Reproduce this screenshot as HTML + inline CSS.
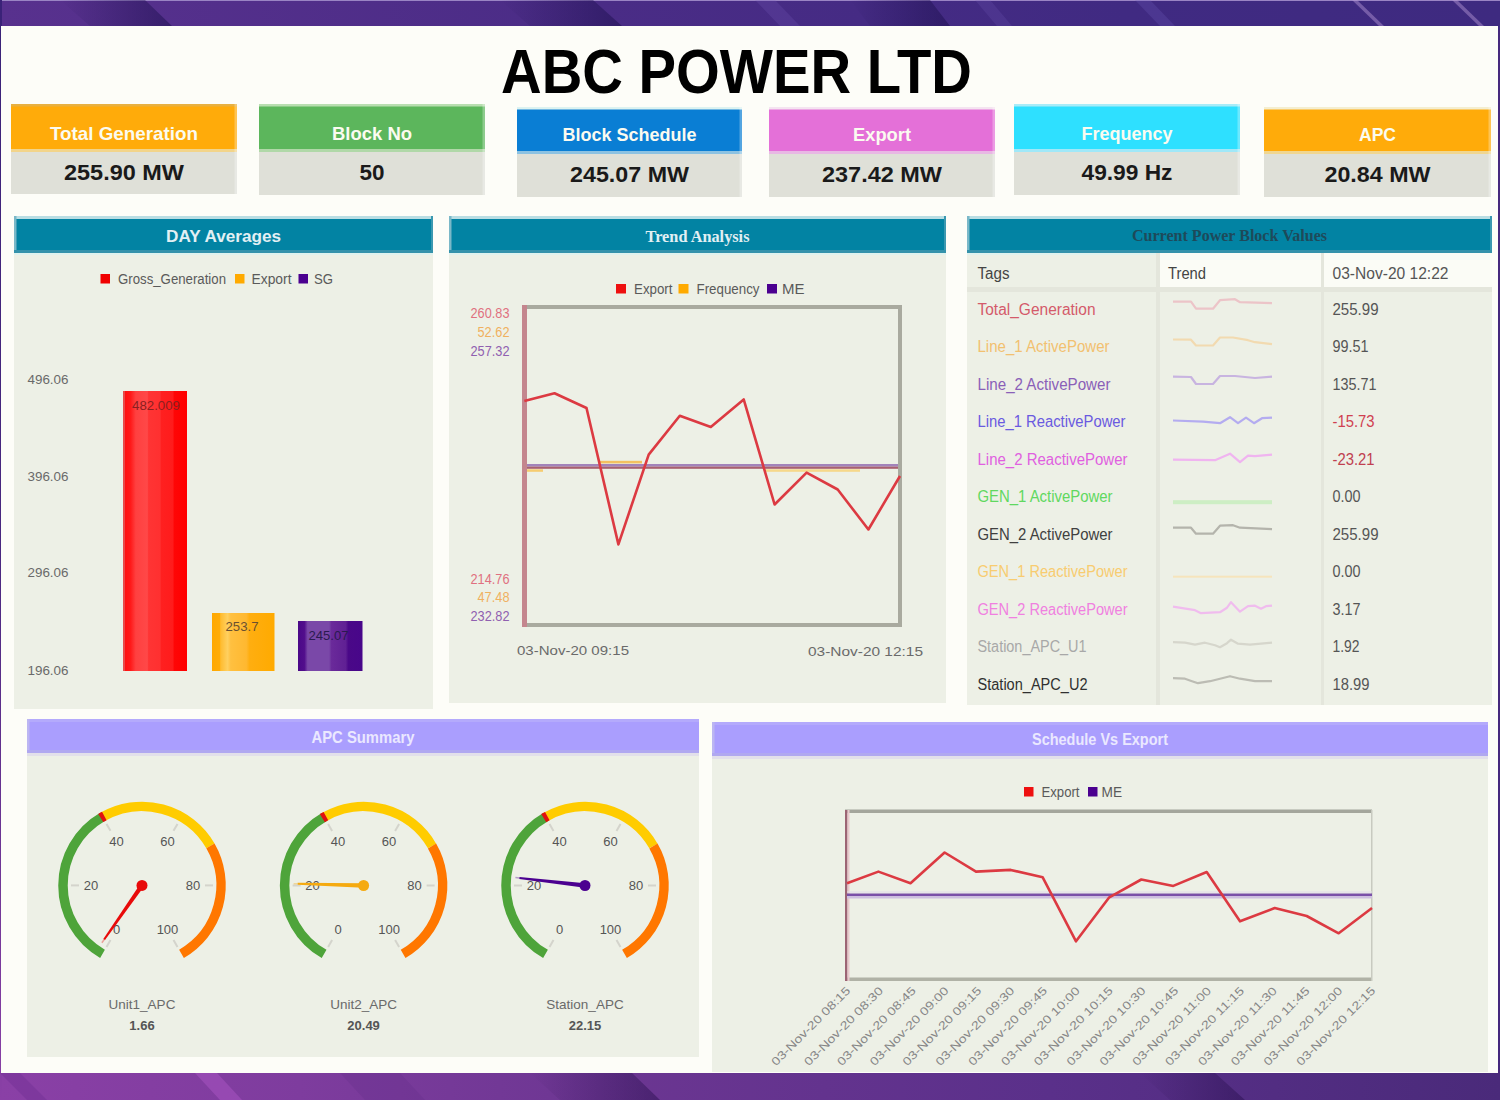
<!DOCTYPE html>
<html><head><meta charset="utf-8"><title>ABC POWER LTD Dashboard</title>
<style>
*{box-sizing:border-box;margin:0;padding:0}
html,body{width:1500px;height:1100px;overflow:hidden}
body{position:relative;font-family:'Liberation Sans', sans-serif;background:#4e2d86}
.abs{position:absolute}
.bg{position:absolute;left:0;top:0;width:1500px;height:1100px}
.frame{position:absolute;left:1px;top:26px;width:1497px;height:1047px;background:#fdfdf8}
.card{position:absolute}
.card .h{position:absolute;left:0;right:0;top:0;color:#fff;font-weight:bold;text-align:center}
.card .v{position:absolute;left:0;right:0;background:#dfe0d8;color:#1c1c1c;font-weight:bold;text-align:center}
.panel{position:absolute;background:#edf0e6}
.ph{position:absolute;left:0;right:0;top:0;text-align:center;font-weight:bold;color:#fff}
svg text{font-family:'Liberation Sans', sans-serif}
</style></head><body>

<svg class="bg" width="1500" height="1100" viewBox="0 0 1500 1100">
<defs>
<linearGradient id="gtop" x1="0" y1="0" x2="1" y2="0">
<stop offset="0" stop-color="#58318e"/><stop offset="0.4" stop-color="#4a2c86"/><stop offset="0.75" stop-color="#402a82"/><stop offset="1" stop-color="#3e2a80"/>
</linearGradient>
<linearGradient id="gbot" x1="0" y1="0" x2="1" y2="0">
<stop offset="0" stop-color="#8a40a6"/><stop offset="0.2" stop-color="#7e3c9e"/><stop offset="0.4" stop-color="#6c3692"/><stop offset="0.7" stop-color="#5a308a"/><stop offset="1" stop-color="#4a2a7a"/>
</linearGradient>
<linearGradient id="wdark" x1="0" y1="0" x2="1" y2="0">
<stop offset="0" stop-color="#1e1050" stop-opacity="0"/><stop offset="1" stop-color="#1e1050" stop-opacity="0.55"/>
</linearGradient>
<linearGradient id="wdark2" x1="0" y1="0" x2="1" y2="0">
<stop offset="0" stop-color="#2a1050" stop-opacity="0"/><stop offset="1" stop-color="#2a1050" stop-opacity="0.5"/>
</linearGradient>
<linearGradient id="gleft" x1="0" y1="0" x2="0" y2="1">
<stop offset="0" stop-color="#3a2278"/><stop offset="0.5" stop-color="#4a2880"/><stop offset="1" stop-color="#8a40a6"/>
</linearGradient>
</defs>
<rect x="0" y="0" width="1500" height="1100" fill="#46297e"/>
<rect x="0" y="0" width="1500" height="30" fill="url(#gtop)"/>
<rect x="0" y="0" width="1500" height="1" fill="#9a84c4"/>
<rect x="0" y="1070" width="1500" height="30" fill="url(#gbot)"/>
<rect x="0" y="0" width="2" height="1100" fill="url(#gleft)"/>
<polygon points="60,0 145,0 172,26 90,26" fill="url(#wdark)"/>
<polygon points="500,0 593,0 622,26 530,26" fill="url(#wdark)"/>
<polygon points="755,0 775,0 800,26 780,26" fill="#7a60c0" opacity="0.22"/>
<polygon points="850,0 930,0 950,26 870,26" fill="url(#wdark)"/>
<polygon points="975,0 990,0 1012,26 997,26" fill="#7a60c0" opacity="0.2"/>
<polygon points="1135,0 1150,0 1175,26 1160,26" fill="#7060c0" opacity="0.25"/>
<polygon points="1352,0 1357,0 1384,26 1379,26" fill="#b898d8" opacity="0.45"/>
<polygon points="1452,0 1457,0 1484,26 1479,26" fill="#b898d8" opacity="0.45"/>
<polygon points="195,1073 217,1073 242,1100 220,1100" fill="#b058c8" opacity="0.45"/>
<polygon points="0,1073 20,1073 47,1100 27,1100" fill="#6a2a90" opacity="0.35"/>
<polygon points="340,1073 400,1073 425,1100 365,1100" fill="#5a2a80" opacity="0.2"/>
<polygon points="530,1073 632,1073 660,1100 560,1100" fill="url(#wdark2)"/>
<polygon points="1140,1073 1215,1073 1245,1100 1170,1100" fill="url(#wdark2)"/>
</svg>
<div class="frame"></div>

<div class="abs" style="left:0;top:0;width:1500px;height:110px"><svg width="1500" height="110"><text x="736.5" y="93.3" text-anchor="middle" font-size="63.5" font-weight="bold" fill="#000" textLength="471" lengthAdjust="spacingAndGlyphs">ABC POWER LTD</text></svg></div>
<div class="card" style="left:11px;top:104px;width:226px;height:90px">
<svg class="abs" style="left:0;top:0" width="226" height="90">
<rect x="0" y="0" width="226" height="46" fill="#ffab0a"/>
<rect x="0" y="46" width="226" height="44" fill="#dfe0d8"/>
<rect x="0" y="0" width="226" height="2.5" fill="#e8b040"/>
<rect x="0" y="45" width="226" height="3" fill="#f2d48a"/>
<rect x="223.5" y="0" width="2.5" height="90" fill="#ffffff" opacity="0.3"/>
<text x="113.0" y="36" text-anchor="middle" font-size="18.5" font-weight="bold" fill="#fbfbf0" textLength="148" lengthAdjust="spacingAndGlyphs">Total Generation</text>
<text x="113.0" y="76.3" text-anchor="middle" font-size="22" font-weight="bold" fill="#1a1a1a" textLength="120" lengthAdjust="spacingAndGlyphs">255.90 MW</text>
</svg></div>
<div class="card" style="left:259px;top:104px;width:226px;height:91px">
<svg class="abs" style="left:0;top:0" width="226" height="91">
<rect x="0" y="0" width="226" height="46" fill="#5cb65c"/>
<rect x="0" y="46" width="226" height="45" fill="#dfe0d8"/>
<rect x="0" y="0" width="226" height="2.5" fill="#b8deb0"/>
<rect x="0" y="45" width="226" height="3" fill="#b0d8a8"/>
<rect x="223.5" y="0" width="2.5" height="91" fill="#ffffff" opacity="0.3"/>
<text x="113.0" y="36" text-anchor="middle" font-size="18.5" font-weight="bold" fill="#fbfbf0" textLength="80" lengthAdjust="spacingAndGlyphs">Block No</text>
<text x="113.0" y="76.3" text-anchor="middle" font-size="22" font-weight="bold" fill="#1a1a1a" textLength="25" lengthAdjust="spacingAndGlyphs">50</text>
</svg></div>
<div class="card" style="left:517px;top:107px;width:225px;height:90px">
<svg class="abs" style="left:0;top:0" width="225" height="90">
<rect x="0" y="0" width="225" height="45" fill="#0a7ed4"/>
<rect x="0" y="45" width="225" height="45" fill="#dfe0d8"/>
<rect x="0" y="0" width="225" height="2.5" fill="#dcf2f0"/>
<rect x="0" y="44" width="225" height="3" fill="#8cc2e2"/>
<rect x="222.5" y="0" width="2.5" height="90" fill="#ffffff" opacity="0.3"/>
<text x="112.5" y="34.3" text-anchor="middle" font-size="18.5" font-weight="bold" fill="#fbfbf0" textLength="134" lengthAdjust="spacingAndGlyphs">Block Schedule</text>
<text x="112.5" y="74.6" text-anchor="middle" font-size="22" font-weight="bold" fill="#1a1a1a" textLength="119" lengthAdjust="spacingAndGlyphs">245.07 MW</text>
</svg></div>
<div class="card" style="left:769px;top:107px;width:226px;height:90px">
<svg class="abs" style="left:0;top:0" width="226" height="90">
<rect x="0" y="0" width="226" height="45" fill="#e470d8"/>
<rect x="0" y="45" width="226" height="45" fill="#dfe0d8"/>
<rect x="0" y="0" width="226" height="2.5" fill="#f4e4f0"/>
<rect x="0" y="44" width="226" height="3" fill="#e8b8e4"/>
<rect x="223.5" y="0" width="2.5" height="90" fill="#ffffff" opacity="0.3"/>
<text x="113.0" y="34.3" text-anchor="middle" font-size="18.5" font-weight="bold" fill="#fbfbf0" textLength="58" lengthAdjust="spacingAndGlyphs">Export</text>
<text x="113.0" y="74.6" text-anchor="middle" font-size="22" font-weight="bold" fill="#1a1a1a" textLength="120" lengthAdjust="spacingAndGlyphs">237.42 MW</text>
</svg></div>
<div class="card" style="left:1014px;top:104px;width:226px;height:91px">
<svg class="abs" style="left:0;top:0" width="226" height="91">
<rect x="0" y="0" width="226" height="46" fill="#2ee0ff"/>
<rect x="0" y="46" width="226" height="45" fill="#dfe0d8"/>
<rect x="0" y="0" width="226" height="2.5" fill="#a8ecf8"/>
<rect x="0" y="45" width="226" height="3" fill="#a0e8f8"/>
<rect x="223.5" y="0" width="2.5" height="91" fill="#ffffff" opacity="0.3"/>
<text x="113.0" y="36" text-anchor="middle" font-size="18.5" font-weight="bold" fill="#fbfbf0" textLength="91" lengthAdjust="spacingAndGlyphs">Frequency</text>
<text x="113.0" y="76.3" text-anchor="middle" font-size="22" font-weight="bold" fill="#1a1a1a" textLength="91" lengthAdjust="spacingAndGlyphs">49.99 Hz</text>
</svg></div>
<div class="card" style="left:1264px;top:107px;width:227px;height:90px">
<svg class="abs" style="left:0;top:0" width="227" height="90">
<rect x="0" y="0" width="227" height="45" fill="#ffab0a"/>
<rect x="0" y="45" width="227" height="45" fill="#dfe0d8"/>
<rect x="0" y="0" width="227" height="2.5" fill="#f4eed0"/>
<rect x="0" y="44" width="227" height="3" fill="#f0d690"/>
<rect x="224.5" y="0" width="2.5" height="90" fill="#ffffff" opacity="0.3"/>
<text x="113.5" y="34.3" text-anchor="middle" font-size="18.5" font-weight="bold" fill="#fbfbf0" textLength="37" lengthAdjust="spacingAndGlyphs">APC</text>
<text x="113.5" y="74.6" text-anchor="middle" font-size="22" font-weight="bold" fill="#1a1a1a" textLength="106" lengthAdjust="spacingAndGlyphs">20.84 MW</text>
</svg></div>
<div class="panel" style="left:14px;top:216px;width:419px;height:493px">
<svg class="abs" style="left:0;top:0" width="419" height="37"><rect width="419" height="37" fill="#0283a3"/>
<rect x="0" y="0" width="419" height="3" fill="#b9dde3"/><rect x="0" y="0" width="2.5" height="37" fill="#7ab8c8"/><rect x="417" y="0" width="2" height="37" fill="#3a98b0"/><rect x="0" y="34" width="419" height="3" fill="#3592ab"/>
<text x="209.5" y="25.69999999999999" text-anchor="middle" font-size="17" font-weight="bold" fill="#e2f0f4" style="font-family:'Liberation Sans', sans-serif" textLength="115" lengthAdjust="spacingAndGlyphs">DAY Averages</text></svg>
<div class="abs" style="left:0;top:37px;width:419px;height:2px;background:#e0f2ee"></div>
</div>
<div class="panel" style="left:449px;top:216px;width:497px;height:487px">
<svg class="abs" style="left:0;top:0" width="497" height="37"><rect width="497" height="37" fill="#0283a3"/>
<rect x="0" y="0" width="497" height="3" fill="#b9dde3"/><rect x="0" y="0" width="2.5" height="37" fill="#7ab8c8"/><rect x="495" y="0" width="2" height="37" fill="#3a98b0"/><rect x="0" y="34" width="497" height="3" fill="#3592ab"/>
<text x="248.5" y="25.5" text-anchor="middle" font-size="16.5" font-weight="bold" fill="#e2f0f4" style="font-family:'Liberation Serif', serif" textLength="104" lengthAdjust="spacingAndGlyphs">Trend Analysis</text></svg>
<div class="abs" style="left:0;top:37px;width:497px;height:2px;background:#e0f2ee"></div>
</div>
<div class="panel" style="left:967px;top:216px;width:525px;height:489px">
<svg class="abs" style="left:0;top:0" width="525" height="37"><rect width="525" height="37" fill="#0283a3"/>
<rect x="0" y="0" width="525" height="3" fill="#b9dde3"/><rect x="0" y="0" width="2.5" height="37" fill="#7ab8c8"/><rect x="523" y="0" width="2" height="37" fill="#3a98b0"/><rect x="0" y="34" width="525" height="3" fill="#3592ab"/>
<text x="262.5" y="24.80000000000001" text-anchor="middle" font-size="16" font-weight="bold" fill="#1e4a5a" style="font-family:'Liberation Serif', serif" textLength="195" lengthAdjust="spacingAndGlyphs">Current Power Block Values</text></svg>
<div class="abs" style="left:0;top:37px;width:525px;height:2px;background:#e0f2ee"></div>
</div>
<div class="panel" style="left:27px;top:719px;width:672px;height:338px">
<svg class="abs" style="left:0;top:0" width="672" height="34"><rect width="672" height="34" fill="#aa9efe"/>
<rect x="0" y="0" width="672" height="3" fill="#b4aafc"/><rect x="0" y="0" width="2.5" height="34" fill="#bcb6f2"/><rect x="0" y="31" width="672" height="3" fill="#b0a8f0"/>
<text x="336.0" y="23.5" text-anchor="middle" font-size="17" font-weight="bold" fill="#eae8ff" style="font-family:'Liberation Sans', sans-serif" textLength="103" lengthAdjust="spacingAndGlyphs">APC Summary</text></svg>
<div class="abs" style="left:0;top:34px;width:672px;height:3px;background:#e2e0ea"></div>
</div>
<div class="panel" style="left:712px;top:722px;width:776px;height:350px">
<svg class="abs" style="left:0;top:0" width="776" height="34"><rect width="776" height="34" fill="#aa9efe"/>
<rect x="0" y="0" width="776" height="3" fill="#b4aafc"/><rect x="0" y="0" width="2.5" height="34" fill="#bcb6f2"/><rect x="0" y="31" width="776" height="3" fill="#b0a8f0"/>
<text x="388.0" y="22.5" text-anchor="middle" font-size="16.5" font-weight="bold" fill="#eae8ff" style="font-family:'Liberation Sans', sans-serif" textLength="136" lengthAdjust="spacingAndGlyphs">Schedule Vs Export</text></svg>
<div class="abs" style="left:0;top:34px;width:776px;height:3px;background:#e2e0ea"></div>
</div>
<svg class="abs" style="left:0;top:0" width="1500" height="1100">
<defs>
<linearGradient id="gred" x1="0" y1="0" x2="1" y2="0">
<stop offset="0" stop-color="#e84a4a"/><stop offset="0.03" stop-color="#e84a4a"/><stop offset="0.03" stop-color="#ff1010"/><stop offset="0.12" stop-color="#ff1a1a"/><stop offset="0.2" stop-color="#ff4040"/><stop offset="0.38" stop-color="#ff4848"/><stop offset="0.4" stop-color="#ff3434"/><stop offset="0.58" stop-color="#ff3030"/><stop offset="0.6" stop-color="#ff2020"/><stop offset="0.78" stop-color="#ff1c1c"/><stop offset="0.8" stop-color="#ff0606"/><stop offset="1" stop-color="#ff0000"/>
</linearGradient>
<linearGradient id="gorg" x1="0" y1="0" x2="1" y2="0">
<stop offset="0" stop-color="#ffa800"/><stop offset="0.12" stop-color="#ffac08"/><stop offset="0.14" stop-color="#ffbc30"/><stop offset="0.25" stop-color="#ffd060"/><stop offset="0.3" stop-color="#ffc040"/><stop offset="0.55" stop-color="#ffb830"/><stop offset="0.6" stop-color="#ffae10"/><stop offset="1" stop-color="#ffaa00"/>
</linearGradient>
<linearGradient id="gpur" x1="0" y1="0" x2="1" y2="0">
<stop offset="0" stop-color="#4a0888"/><stop offset="0.1" stop-color="#520e8c"/><stop offset="0.15" stop-color="#7a48a8"/><stop offset="0.48" stop-color="#7a48a8"/><stop offset="0.52" stop-color="#6a2a9a"/><stop offset="0.74" stop-color="#602094"/><stop offset="0.78" stop-color="#4a0888"/><stop offset="1" stop-color="#48068a"/>
</linearGradient>
</defs>
<rect x="100.5" y="274" width="9.5" height="9.5" fill="#f00000"/>
<text x="118" y="283.5" font-size="14" fill="#5a5a5a" textLength="108" lengthAdjust="spacingAndGlyphs">Gross_Generation</text>
<rect x="235" y="274" width="9.5" height="9.5" fill="#ffaa00"/>
<text x="251.5" y="283.5" font-size="14" fill="#5a5a5a" textLength="40" lengthAdjust="spacingAndGlyphs">Export</text>
<rect x="298.5" y="274" width="9.5" height="9.5" fill="#4b0090"/>
<text x="314" y="283.5" font-size="14" fill="#5a5a5a" textLength="19" lengthAdjust="spacingAndGlyphs">SG</text>
<text x="27.5" y="384" font-size="13.5" fill="#6a6a6a" textLength="41" lengthAdjust="spacingAndGlyphs">496.06</text>
<text x="27.5" y="480.5" font-size="13.5" fill="#6a6a6a" textLength="41" lengthAdjust="spacingAndGlyphs">396.06</text>
<text x="27.5" y="577" font-size="13.5" fill="#6a6a6a" textLength="41" lengthAdjust="spacingAndGlyphs">296.06</text>
<text x="27.5" y="674.5" font-size="13.5" fill="#6a6a6a" textLength="41" lengthAdjust="spacingAndGlyphs">196.06</text>
<rect x="123" y="391" width="64" height="280" fill="url(#gred)"/>
<rect x="212" y="613" width="62.5" height="58" fill="url(#gorg)"/>
<rect x="298" y="621" width="64.5" height="50" fill="url(#gpur)"/>
<text x="156" y="410" font-size="13.5" fill="#8a2020" text-anchor="middle" textLength="48" lengthAdjust="spacingAndGlyphs">482.009</text>
<text x="242" y="631" font-size="13.5" fill="#6a5030" text-anchor="middle" textLength="33" lengthAdjust="spacingAndGlyphs">253.7</text>
<text x="328.5" y="639.5" font-size="13.5" fill="#2a1a50" text-anchor="middle" textLength="40" lengthAdjust="spacingAndGlyphs">245.07</text>
<rect x="616" y="284" width="10" height="9.5" fill="#ee1010"/>
<text x="634" y="293.5" font-size="14" fill="#5a5a5a" textLength="38.5" lengthAdjust="spacingAndGlyphs">Export</text>
<rect x="678.5" y="284" width="10" height="9.5" fill="#ffaa00"/>
<text x="696.5" y="293.5" font-size="14" fill="#5a5a5a" textLength="63" lengthAdjust="spacingAndGlyphs">Frequency</text>
<rect x="767" y="284" width="10" height="9.5" fill="#4b0090"/>
<text x="782" y="293.5" font-size="14" fill="#5a5a5a" textLength="22.5" lengthAdjust="spacingAndGlyphs">ME</text>
<rect x="522" y="305" width="380" height="4" fill="#a9aa9f"/>
<rect x="522" y="623" width="380" height="4" fill="#a9aa9f"/>
<rect x="898" y="305" width="4" height="322" fill="#a9aa9f"/>
<rect x="522" y="305" width="5" height="322" fill="#c4868e"/>
<text x="509.5" y="318" font-size="14" fill="#e07080" text-anchor="end" textLength="39" lengthAdjust="spacingAndGlyphs">260.83</text>
<text x="509.5" y="337" font-size="14" fill="#f0b060" text-anchor="end" textLength="32" lengthAdjust="spacingAndGlyphs">52.62</text>
<text x="509.5" y="355.5" font-size="14" fill="#9060b0" text-anchor="end" textLength="39" lengthAdjust="spacingAndGlyphs">257.32</text>
<text x="509.5" y="583.7" font-size="14" fill="#e07080" text-anchor="end" textLength="39" lengthAdjust="spacingAndGlyphs">214.76</text>
<text x="509.5" y="602" font-size="14" fill="#f0b060" text-anchor="end" textLength="32" lengthAdjust="spacingAndGlyphs">47.48</text>
<text x="509.5" y="621" font-size="14" fill="#9060b0" text-anchor="end" textLength="39" lengthAdjust="spacingAndGlyphs">232.82</text>
<text x="517" y="655" font-size="13" fill="#6a6a6a" textLength="112" lengthAdjust="spacingAndGlyphs">03-Nov-20 09:15</text>
<text x="808" y="655.5" font-size="13" fill="#6a6a6a" textLength="115" lengthAdjust="spacingAndGlyphs">03-Nov-20 12:15</text>
<rect x="527" y="469.3" width="16" height="2.5" fill="#f6cc70"/>
<rect x="598" y="460.8" width="44" height="2.6" fill="#f4c060"/>
<rect x="765" y="469.3" width="95" height="2.5" fill="#f6d88a"/>
<rect x="527" y="464" width="371" height="2.6" fill="#a283ba"/>
<rect x="527" y="466.6" width="371" height="2.2" fill="#a86070"/>
<polyline points="524.3,401 554.5,393.3 586.5,408 618.4,544.4 648.7,454.6 679.8,415.8 710.8,427 743.7,399.4 774.6,504.5 806.6,472.7 837.7,489.5 868.4,529.5 900,476" fill="none" stroke="#dc3a42" stroke-width="2.6" stroke-linejoin="round"/>
<rect x="1160" y="253" width="332" height="34" fill="#fbfcf6"/>
<rect x="967" y="287" width="525" height="5" fill="#e4e6dc"/>
<rect x="1156" y="253" width="4" height="452" fill="#e4e6dc"/>
<rect x="1321" y="253" width="3" height="452" fill="#e4e6dc"/>
<text x="977.5" y="279" font-size="16" fill="#444" textLength="32" lengthAdjust="spacingAndGlyphs">Tags</text>
<text x="1168" y="279" font-size="16" fill="#444" textLength="38" lengthAdjust="spacingAndGlyphs">Trend</text>
<text x="1332.5" y="279" font-size="16" fill="#555" textLength="116" lengthAdjust="spacingAndGlyphs">03-Nov-20 12:22</text>
<text x="977.5" y="314.7" font-size="16" fill="#d45a6a" textLength="118" lengthAdjust="spacingAndGlyphs">Total_Generation</text>
<text x="1332.5" y="314.7" font-size="16" fill="#555" textLength="46" lengthAdjust="spacingAndGlyphs">255.99</text>
<polyline points="1173,301.7 1191,301.7 1196,308.7 1213,308.7 1220,300.2 1235,299.2 1240,302.2 1272,303.2" fill="none" stroke="#ecc4c8" stroke-width="2.2" stroke-linejoin="round"/>
<text x="977.5" y="352.2" font-size="16" fill="#f2c070" textLength="132" lengthAdjust="spacingAndGlyphs">Line_1 ActivePower</text>
<text x="1332.5" y="352.2" font-size="16" fill="#555" textLength="36" lengthAdjust="spacingAndGlyphs">99.51</text>
<polyline points="1173,339.5 1191,339.7 1196,345.5 1213,345.5 1220,337.5 1233,337.5 1248,340.2 1255,342.2 1272,344.2" fill="none" stroke="#f2dab0" stroke-width="2.2" stroke-linejoin="round"/>
<text x="977.5" y="389.7" font-size="16" fill="#8a60b8" textLength="133" lengthAdjust="spacingAndGlyphs">Line_2 ActivePower</text>
<text x="1332.5" y="389.7" font-size="16" fill="#555" textLength="44" lengthAdjust="spacingAndGlyphs">135.71</text>
<polyline points="1173,376.7 1191,377.0 1196,384.0 1213,384.0 1220,376.0 1235,376.0 1255,378.0 1272,376.7" fill="none" stroke="#c8b4e0" stroke-width="2.2" stroke-linejoin="round"/>
<text x="977.5" y="427.2" font-size="16" fill="#6a5ae0" textLength="148" lengthAdjust="spacingAndGlyphs">Line_1 ReactivePower</text>
<text x="1332.5" y="427.2" font-size="16" fill="#d04050" textLength="42" lengthAdjust="spacingAndGlyphs">-15.73</text>
<polyline points="1173,420.5 1203,421.7 1220,423.2 1230,417.2 1238,423.2 1246,417.7 1254,423.2 1262,418.2 1272,417.7" fill="none" stroke="#b4acf0" stroke-width="2.2" stroke-linejoin="round"/>
<text x="977.5" y="464.7" font-size="16" fill="#e060e0" textLength="150" lengthAdjust="spacingAndGlyphs">Line_2 ReactivePower</text>
<text x="1332.5" y="464.7" font-size="16" fill="#c04050" textLength="42" lengthAdjust="spacingAndGlyphs">-23.21</text>
<polyline points="1173,459.7 1215,460.2 1230,453.7 1240,462.2 1248,455.7 1255,456.2 1272,454.7" fill="none" stroke="#f0b4f0" stroke-width="2.2" stroke-linejoin="round"/>
<text x="977.5" y="502.2" font-size="16" fill="#60d860" textLength="135" lengthAdjust="spacingAndGlyphs">GEN_1 ActivePower</text>
<text x="1332.5" y="502.2" font-size="16" fill="#555" textLength="28" lengthAdjust="spacingAndGlyphs">0.00</text>
<rect x="1173" y="500.2" width="99" height="4" fill="#cdeec4"/>
<text x="977.5" y="539.7" font-size="16" fill="#404040" textLength="135" lengthAdjust="spacingAndGlyphs">GEN_2 ActivePower</text>
<text x="1332.5" y="539.7" font-size="16" fill="#555" textLength="46" lengthAdjust="spacingAndGlyphs">255.99</text>
<polyline points="1173,527.7 1191,527.7 1196,533.7 1213,533.7 1220,525.7 1233,525.2 1240,527.7 1272,529.2" fill="none" stroke="#b4b4ac" stroke-width="2.2" stroke-linejoin="round"/>
<text x="977.5" y="577.2" font-size="16" fill="#f8cc70" textLength="150" lengthAdjust="spacingAndGlyphs">GEN_1 ReactivePower</text>
<text x="1332.5" y="577.2" font-size="16" fill="#555" textLength="28" lengthAdjust="spacingAndGlyphs">0.00</text>
<rect x="1173" y="575.7" width="99" height="2" fill="#f6e4bc"/>
<text x="977.5" y="614.7" font-size="16" fill="#f080e0" textLength="150" lengthAdjust="spacingAndGlyphs">GEN_2 ReactivePower</text>
<text x="1332.5" y="614.7" font-size="16" fill="#555" textLength="28" lengthAdjust="spacingAndGlyphs">3.17</text>
<polyline points="1173,606.7 1195,610.2 1201,613.2 1220,612.2 1227,607.7 1231,602.2 1240,611.7 1248,606.2 1255,605.7 1261,608.7 1266,606.2 1272,605.7" fill="none" stroke="#f0bcee" stroke-width="2.2" stroke-linejoin="round"/>
<text x="977.5" y="652.2" font-size="16" fill="#a8a8a8" textLength="109" lengthAdjust="spacingAndGlyphs">Station_APC_U1</text>
<text x="1332.5" y="652.2" font-size="16" fill="#555" textLength="27" lengthAdjust="spacingAndGlyphs">1.92</text>
<polyline points="1173,642.2 1185,642.7 1195,644.7 1205,642.7 1215,645.2 1220,647.2 1227,643.2 1231,639.7 1238,643.7 1250,644.7 1272,642.7" fill="none" stroke="#d6d6cc" stroke-width="2.2" stroke-linejoin="round"/>
<text x="977.5" y="689.7" font-size="16" fill="#303030" textLength="110" lengthAdjust="spacingAndGlyphs">Station_APC_U2</text>
<text x="1332.5" y="689.7" font-size="16" fill="#555" textLength="37" lengthAdjust="spacingAndGlyphs">18.99</text>
<polyline points="1173,678.2 1185,678.7 1192,681.2 1198,683.2 1210,681.2 1220,678.7 1230,676.2 1240,678.7 1255,681.2 1272,681.2" fill="none" stroke="#bcbcb4" stroke-width="2.2" stroke-linejoin="round"/>
<path d="M102.50,953.82 A79,79 0 0 1 102.50,816.98" fill="none" stroke="#4ea43a" stroke-width="9.5"/>
<path d="M102.50,816.98 A79,79 0 0 1 210.42,845.90" fill="none" stroke="#ffcc00" stroke-width="9.5"/>
<path d="M210.42,845.90 A79,79 0 0 1 181.50,953.82" fill="none" stroke="#ff7700" stroke-width="9.5"/>
<path d="M100.72,818.04 A79,79 0 0 1 104.30,815.97" fill="none" stroke="#e01010" stroke-width="9.5"/>
<line x1="110.5" y1="940.0" x2="106.5" y2="946.9" stroke="#d4d4cc" stroke-width="2"/>
<text x="116.5" y="934.3" font-size="13" fill="#555" text-anchor="middle">0</text>
<line x1="79.0" y1="885.4" x2="71.0" y2="885.4" stroke="#d4d4cc" stroke-width="2"/>
<text x="91.0" y="890.1" font-size="13" fill="#555" text-anchor="middle">20</text>
<line x1="110.5" y1="830.8" x2="106.5" y2="823.9" stroke="#d4d4cc" stroke-width="2"/>
<text x="116.5" y="845.9" font-size="13" fill="#555" text-anchor="middle">40</text>
<line x1="173.5" y1="830.8" x2="177.5" y2="823.9" stroke="#d4d4cc" stroke-width="2"/>
<text x="167.5" y="845.9" font-size="13" fill="#555" text-anchor="middle">60</text>
<line x1="205.0" y1="885.4" x2="213.0" y2="885.4" stroke="#d4d4cc" stroke-width="2"/>
<text x="193.0" y="890.1" font-size="13" fill="#555" text-anchor="middle">80</text>
<line x1="173.5" y1="940.0" x2="177.5" y2="946.9" stroke="#d4d4cc" stroke-width="2"/>
<text x="167.5" y="934.3" font-size="13" fill="#555" text-anchor="middle">100</text>
<line x1="104.2" y1="939.5" x2="101.9" y2="942.8" stroke="#e80a0a" stroke-width="1.5" opacity="0.35"/>
<polygon points="143.8,886.7 105.0,940.1 103.3,938.9 140.2,884.1" fill="#e80a0a"/>
<circle cx="142" cy="885.4" r="5.5" fill="#e80a0a"/>
<text x="142" y="1008.5" text-anchor="middle" font-size="13.5" fill="#6a6a6a">Unit1_APC</text>
<text x="142" y="1030" text-anchor="middle" font-size="13" font-weight="bold" fill="#555">1.66</text>
<path d="M324.10,953.92 A79,79 0 0 1 324.10,817.08" fill="none" stroke="#4ea43a" stroke-width="9.5"/>
<path d="M324.10,817.08 A79,79 0 0 1 432.02,846.00" fill="none" stroke="#ffcc00" stroke-width="9.5"/>
<path d="M432.02,846.00 A79,79 0 0 1 403.10,953.92" fill="none" stroke="#ff7700" stroke-width="9.5"/>
<path d="M322.32,818.14 A79,79 0 0 1 325.90,816.07" fill="none" stroke="#e01010" stroke-width="9.5"/>
<line x1="332.1" y1="940.1" x2="328.1" y2="947.0" stroke="#d4d4cc" stroke-width="2"/>
<text x="338.1" y="934.4" font-size="13" fill="#555" text-anchor="middle">0</text>
<line x1="300.6" y1="885.5" x2="292.6" y2="885.5" stroke="#d4d4cc" stroke-width="2"/>
<text x="312.6" y="890.2" font-size="13" fill="#555" text-anchor="middle">20</text>
<line x1="332.1" y1="830.9" x2="328.1" y2="824.0" stroke="#d4d4cc" stroke-width="2"/>
<text x="338.1" y="846.0" font-size="13" fill="#555" text-anchor="middle">40</text>
<line x1="395.1" y1="830.9" x2="399.1" y2="824.0" stroke="#d4d4cc" stroke-width="2"/>
<text x="389.1" y="846.0" font-size="13" fill="#555" text-anchor="middle">60</text>
<line x1="426.6" y1="885.5" x2="434.6" y2="885.5" stroke="#d4d4cc" stroke-width="2"/>
<text x="414.6" y="890.2" font-size="13" fill="#555" text-anchor="middle">80</text>
<line x1="395.1" y1="940.1" x2="399.1" y2="947.0" stroke="#d4d4cc" stroke-width="2"/>
<text x="389.1" y="934.4" font-size="13" fill="#555" text-anchor="middle">100</text>
<line x1="297.6" y1="883.8" x2="293.6" y2="883.7" stroke="#f5aa10" stroke-width="1.5" opacity="0.35"/>
<polygon points="363.5,887.7 297.6,884.8 297.6,882.8 363.7,883.3" fill="#f5aa10"/>
<circle cx="363.6" cy="885.5" r="5.5" fill="#f5aa10"/>
<text x="363.6" y="1008.5" text-anchor="middle" font-size="13.5" fill="#6a6a6a">Unit2_APC</text>
<text x="363.6" y="1030" text-anchor="middle" font-size="13" font-weight="bold" fill="#555">20.49</text>
<path d="M545.50,953.92 A79,79 0 0 1 545.50,817.08" fill="none" stroke="#4ea43a" stroke-width="9.5"/>
<path d="M545.50,817.08 A79,79 0 0 1 653.42,846.00" fill="none" stroke="#ffcc00" stroke-width="9.5"/>
<path d="M653.42,846.00 A79,79 0 0 1 624.50,953.92" fill="none" stroke="#ff7700" stroke-width="9.5"/>
<path d="M543.72,818.14 A79,79 0 0 1 547.30,816.07" fill="none" stroke="#e01010" stroke-width="9.5"/>
<line x1="553.5" y1="940.1" x2="549.5" y2="947.0" stroke="#d4d4cc" stroke-width="2"/>
<text x="559.5" y="934.4" font-size="13" fill="#555" text-anchor="middle">0</text>
<line x1="522.0" y1="885.5" x2="514.0" y2="885.5" stroke="#d4d4cc" stroke-width="2"/>
<text x="534.0" y="890.2" font-size="13" fill="#555" text-anchor="middle">20</text>
<line x1="553.5" y1="830.9" x2="549.5" y2="824.0" stroke="#d4d4cc" stroke-width="2"/>
<text x="559.5" y="846.0" font-size="13" fill="#555" text-anchor="middle">40</text>
<line x1="616.5" y1="830.9" x2="620.5" y2="824.0" stroke="#d4d4cc" stroke-width="2"/>
<text x="610.5" y="846.0" font-size="13" fill="#555" text-anchor="middle">60</text>
<line x1="648.0" y1="885.5" x2="656.0" y2="885.5" stroke="#d4d4cc" stroke-width="2"/>
<text x="636.0" y="890.2" font-size="13" fill="#555" text-anchor="middle">80</text>
<line x1="616.5" y1="940.1" x2="620.5" y2="947.0" stroke="#d4d4cc" stroke-width="2"/>
<text x="610.5" y="934.4" font-size="13" fill="#555" text-anchor="middle">100</text>
<line x1="519.4" y1="878.1" x2="515.4" y2="877.6" stroke="#4b0090" stroke-width="1.5" opacity="0.35"/>
<polygon points="584.8,887.7 519.3,879.1 519.5,877.1 585.2,883.3" fill="#4b0090"/>
<circle cx="585" cy="885.5" r="5.5" fill="#4b0090"/>
<text x="585" y="1008.5" text-anchor="middle" font-size="13.5" fill="#6a6a6a">Station_APC</text>
<text x="585" y="1030" text-anchor="middle" font-size="13" font-weight="bold" fill="#555">22.15</text>
<rect x="1024" y="787" width="9.5" height="9.5" fill="#ee1010"/>
<text x="1041.5" y="796.5" font-size="14" fill="#5a5a5a" textLength="38" lengthAdjust="spacingAndGlyphs">Export</text>
<rect x="1088" y="787" width="9.5" height="9.5" fill="#4b0090"/>
<text x="1101.5" y="796.5" font-size="14" fill="#5a5a5a" textLength="20.5" lengthAdjust="spacingAndGlyphs">ME</text>
<rect x="845" y="809.5" width="527" height="3.5" fill="#a4a69c"/>
<rect x="845" y="977.5" width="527" height="3.5" fill="#b0b2a6"/>
<rect x="1371" y="810" width="1.5" height="171" fill="#c8cac0"/>
<rect x="845" y="810" width="2.5" height="171" fill="#9c6474"/>
<rect x="847.5" y="810" width="2" height="171" fill="#e8c8cc"/>
<rect x="847" y="891.5" width="525" height="1" fill="#e2dcea"/>
<rect x="847" y="896" width="525" height="2.5" fill="#cdbfe0"/>
<rect x="847" y="893.5" width="525" height="2.5" fill="#7a50a8"/>
<polyline points="847,883.2 878.4,871.6 910.5,883.2 944.6,852.5 976,871.6 1010.7,869.9 1042.7,877.3 1076,941.3 1109.3,897.3 1141.3,879.5 1173.3,885.9 1206.7,872 1240,921.3 1274.7,908 1306.7,916 1338.7,933.3 1372,908" fill="none" stroke="#dc3a42" stroke-width="2.6" stroke-linejoin="round"/>
<text x="851.0" y="991.5" text-anchor="end" font-size="11.5" fill="#868686" textLength="106" lengthAdjust="spacingAndGlyphs" transform="rotate(-45 851.0 991.5)">03-Nov-20 08:15</text>
<text x="883.8" y="991.5" text-anchor="end" font-size="11.5" fill="#868686" textLength="106" lengthAdjust="spacingAndGlyphs" transform="rotate(-45 883.8 991.5)">03-Nov-20 08:30</text>
<text x="916.6" y="991.5" text-anchor="end" font-size="11.5" fill="#868686" textLength="106" lengthAdjust="spacingAndGlyphs" transform="rotate(-45 916.6 991.5)">03-Nov-20 08:45</text>
<text x="949.4" y="991.5" text-anchor="end" font-size="11.5" fill="#868686" textLength="106" lengthAdjust="spacingAndGlyphs" transform="rotate(-45 949.4 991.5)">03-Nov-20 09:00</text>
<text x="982.2" y="991.5" text-anchor="end" font-size="11.5" fill="#868686" textLength="106" lengthAdjust="spacingAndGlyphs" transform="rotate(-45 982.2 991.5)">03-Nov-20 09:15</text>
<text x="1015.1" y="991.5" text-anchor="end" font-size="11.5" fill="#868686" textLength="106" lengthAdjust="spacingAndGlyphs" transform="rotate(-45 1015.1 991.5)">03-Nov-20 09:30</text>
<text x="1047.9" y="991.5" text-anchor="end" font-size="11.5" fill="#868686" textLength="106" lengthAdjust="spacingAndGlyphs" transform="rotate(-45 1047.9 991.5)">03-Nov-20 09:45</text>
<text x="1080.7" y="991.5" text-anchor="end" font-size="11.5" fill="#868686" textLength="106" lengthAdjust="spacingAndGlyphs" transform="rotate(-45 1080.7 991.5)">03-Nov-20 10:00</text>
<text x="1113.5" y="991.5" text-anchor="end" font-size="11.5" fill="#868686" textLength="106" lengthAdjust="spacingAndGlyphs" transform="rotate(-45 1113.5 991.5)">03-Nov-20 10:15</text>
<text x="1146.3" y="991.5" text-anchor="end" font-size="11.5" fill="#868686" textLength="106" lengthAdjust="spacingAndGlyphs" transform="rotate(-45 1146.3 991.5)">03-Nov-20 10:30</text>
<text x="1179.1" y="991.5" text-anchor="end" font-size="11.5" fill="#868686" textLength="106" lengthAdjust="spacingAndGlyphs" transform="rotate(-45 1179.1 991.5)">03-Nov-20 10:45</text>
<text x="1211.9" y="991.5" text-anchor="end" font-size="11.5" fill="#868686" textLength="106" lengthAdjust="spacingAndGlyphs" transform="rotate(-45 1211.9 991.5)">03-Nov-20 11:00</text>
<text x="1244.8" y="991.5" text-anchor="end" font-size="11.5" fill="#868686" textLength="106" lengthAdjust="spacingAndGlyphs" transform="rotate(-45 1244.8 991.5)">03-Nov-20 11:15</text>
<text x="1277.6" y="991.5" text-anchor="end" font-size="11.5" fill="#868686" textLength="106" lengthAdjust="spacingAndGlyphs" transform="rotate(-45 1277.6 991.5)">03-Nov-20 11:30</text>
<text x="1310.4" y="991.5" text-anchor="end" font-size="11.5" fill="#868686" textLength="106" lengthAdjust="spacingAndGlyphs" transform="rotate(-45 1310.4 991.5)">03-Nov-20 11:45</text>
<text x="1343.2" y="991.5" text-anchor="end" font-size="11.5" fill="#868686" textLength="106" lengthAdjust="spacingAndGlyphs" transform="rotate(-45 1343.2 991.5)">03-Nov-20 12:00</text>
<text x="1376.0" y="991.5" text-anchor="end" font-size="11.5" fill="#868686" textLength="106" lengthAdjust="spacingAndGlyphs" transform="rotate(-45 1376.0 991.5)">03-Nov-20 12:15</text>
</svg>
</body></html>
